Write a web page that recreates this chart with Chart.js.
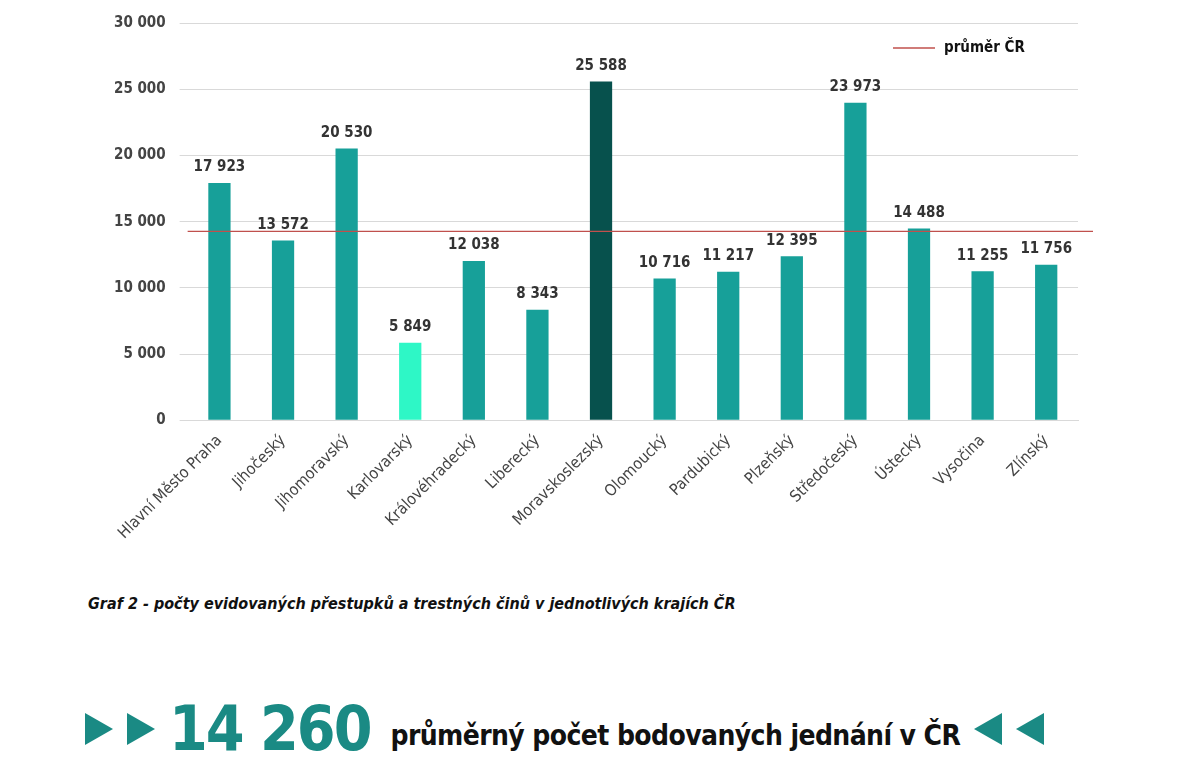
<!DOCTYPE html>
<html><head><meta charset="utf-8">
<script src="https://cdn.jsdelivr.net/npm/chart.js@4"></script>
<style>
body{margin:0;background:#fff;font-family:"DejaVu Sans Condensed","DejaVu Sans",sans-serif;}
#wrap{position:relative;width:1200px;height:546px;}
.cap{position:absolute;left:88px;top:594px;font-style:italic;font-weight:bold;font-size:16px;color:#111;}
.big{position:absolute;left:85px;top:692px;display:flex;align-items:center;color:#1a8a84;}
.tri{width:0;height:0;border-top:16px solid transparent;border-bottom:16px solid transparent;border-left:28px solid #1a8a84;margin-right:14px;}
.tril{width:0;height:0;border-top:16px solid transparent;border-bottom:16px solid transparent;border-right:28px solid #1a8a84;margin-left:14px;}
.num{font-size:62px;font-weight:bold;margin:0 20px 0 0;letter-spacing:-2px;}
.txt{font-size:28px;font-weight:bold;color:#111;margin-top:14px;letter-spacing:-0.6px;}
</style></head><body>
<div id="wrap"><canvas id="c"></canvas></div>
<div class="cap">Graf 2 - počty evidovaných přestupků a trestných činů v jednotlivých krajích ČR</div>
<div class="big"><div class="tri"></div><div class="tri"></div><span class="num">14 260</span><span class="txt">průměrný počet bodovaných jednání v ČR</span><div class="tril"></div><div class="tril"></div></div>
<script>
const regions = ['Hlavní Město Praha','Jihočeský','Jihomoravský','Karlovarský','Královéhradecký','Liberecký','Moravskoslezský','Olomoucký','Pardubický','Plzeňský','Středočeský','Ústecký','Vysočina','Zlínský'];
const counts = [17923,13572,20530,5849,12038,8343,25588,10716,11217,12395,23973,14488,11255,11756];
const average = 14260;
const barColors = ['#17a099','#17a099','#17a099','#2ef7c6','#17a099','#17a099','#07514d','#17a099','#17a099','#17a099','#17a099','#17a099','#17a099','#17a099'];

const FONT = '"DejaVu Sans Condensed", "DejaVu Sans", sans-serif';
const fmt = v => String(v).replace(/\B(?=(\d{3})+(?!\d))/g, ' ');

const extras = {
  id: 'extras',
  afterDatasetsDraw(chart) {
    const ctx = chart.ctx, y = chart.scales.y, a = chart.chartArea;
    // value labels
    ctx.save();
    ctx.font = 'bold 15px ' + FONT;
    ctx.fillStyle = '#333';
    ctx.textAlign = 'center';
    ctx.textBaseline = 'bottom';
    chart.getDatasetMeta(0).data.forEach((b, i) => ctx.fillText(fmt(counts[i]), b.x, b.y - 8));
    // average line
    const py = y.getPixelForValue(average);
    ctx.strokeStyle = '#c0504d';
    ctx.lineWidth = 1.3;
    ctx.beginPath(); ctx.moveTo(a.left, py); ctx.lineTo(a.right + 15, py); ctx.stroke();
    // legend
    ctx.beginPath(); ctx.moveTo(893, 48); ctx.lineTo(935, 48); ctx.stroke();
    ctx.fillStyle = '#111';
    ctx.textAlign = 'left'; ctx.textBaseline = 'middle';
    ctx.font = 'bold 15px ' + FONT;
    ctx.fillText('průměr ČR', 944, 48);
    ctx.restore();
  }
};

new Chart(document.getElementById('c'), {
  type: 'bar',
  data: { labels: regions, datasets: [{ data: counts, backgroundColor: barColors, barPercentage: 0.35, categoryPercentage: 1 }] },
  options: {
    responsive: true, maintainAspectRatio: false, animation: false,
    layout: { padding: { top: 18, right: 122, left: 100 } },
    plugins: { legend: { display: false }, tooltip: { enabled: false } },
    scales: {
      x: { grid: { display: false }, border: { color: '#d9d9d9' },
           ticks: { color: '#444', font: { size: 16, family: FONT }, maxRotation: 45, minRotation: 45, autoSkip: false } },
      y: { min: 0, max: 30000, border: { display: false },
           grid: { color: '#d9d9d9' },
           ticks: { stepSize: 5000, padding: 14, color: '#444', font: { size: 15, weight: 'bold', family: FONT }, callback: v => fmt(v) } }
    }
  },
  plugins: [extras]
});
</script>
</body></html>
